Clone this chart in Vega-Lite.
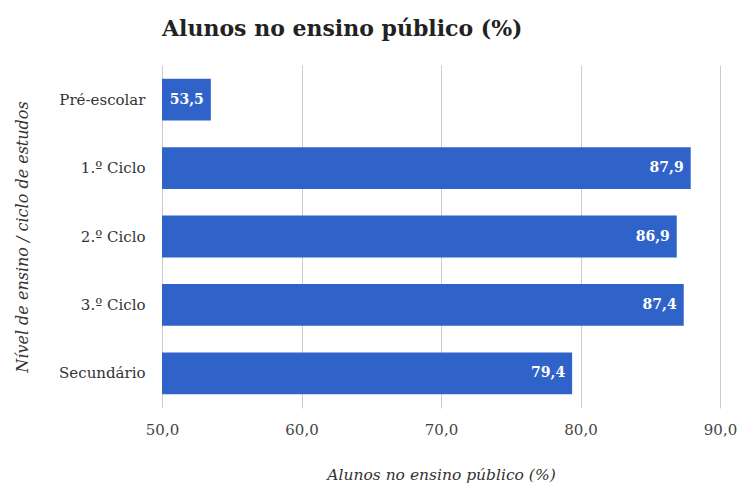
{
  "$schema": "https://vega.github.io/schema/vega-lite/v6.json",
  "width": 558,
  "height": 343,
  "autosize": "none",
  "padding": {"left": 162, "top": 65, "right": 21, "bottom": 78},
  "background": "white",
  "config": {
    "locale": {"number": {"decimal": ",", "thousands": ".", "grouping": [3], "currency": ["", " €"]}},
    "font": "DejaVu Serif",
    "view": {"stroke": null}
  },
  "title": {
    "text": "Alunos no ensino público (%)",
    "anchor": "start",
    "frame": "group",
    "font": "DejaVu Serif",
    "fontSize": 22,
    "fontWeight": "bold",
    "color": "#222222",
    "offset": 24
  },
  "data": {
    "values": [
      {"nivel": "Pré-escolar", "valor": 53.5},
      {"nivel": "1.º Ciclo", "valor": 87.9},
      {"nivel": "2.º Ciclo", "valor": 86.9},
      {"nivel": "3.º Ciclo", "valor": 87.4},
      {"nivel": "Secundário", "valor": 79.4}
    ]
  },
  "encoding": {
    "y": {
      "field": "nivel",
      "type": "nominal",
      "sort": null,
      "scale": {"paddingInner": 0.39, "paddingOuter": 0.2},
      "axis": {
        "title": "Nível de ensino / ciclo de estudos",
        "titleFont": "DejaVu Serif",
        "titleFontStyle": "italic",
        "titleFontWeight": "normal",
        "titleFontSize": 16,
        "titleColor": "#333333",
        "titleX": -140,
        "titleY": 171.5,
        "titleAlign": "center",
        "titleBaseline": "middle",
        "titleAngle": -90,
        "domain": false,
        "ticks": false,
        "labelPadding": 17,
        "labelFontSize": 15,
        "labelColor": "#333333",
        "labelFont": "DejaVu Serif"
      }
    },
    "x": {
      "field": "valor",
      "type": "quantitative",
      "scale": {"domain": [50, 90], "clamp": true, "zero": false},
      "axis": {
        "title": "Alunos no ensino público (%)",
        "titleFont": "DejaVu Serif",
        "titleFontStyle": "italic",
        "titleFontWeight": "normal",
        "titleFontSize": 15.5,
        "titleColor": "#333333",
        "titlePadding": 30,
        "values": [50, 60, 70, 80, 90],
        "format": ".1f",
        "labelFlush": false,
        "domain": false,
        "ticks": false,
        "grid": true,
        "gridColor": "#cccccc",
        "gridWidth": 1,
        "labelPadding": 14,
        "labelFontSize": 15,
        "labelColor": "#444444",
        "labelFont": "DejaVu Serif"
      }
    }
  },
  "layer": [
    {
      "mark": {"type": "bar", "color": "#3063c9", "x": {"expr": "scale('x', 50)"}},
      "encoding": {"x": {"field": "valor", "type": "quantitative"}}
    },
    {
      "mark": {
        "type": "text",
        "align": "right",
        "baseline": "middle",
        "dx": -7,
        "color": "white",
        "fontSize": 14,
        "fontWeight": "bold",
        "font": "DejaVu Serif"
      },
      "encoding": {
        "text": {"field": "valor", "type": "quantitative", "format": ".1f"}
      }
    }
  ]
}
